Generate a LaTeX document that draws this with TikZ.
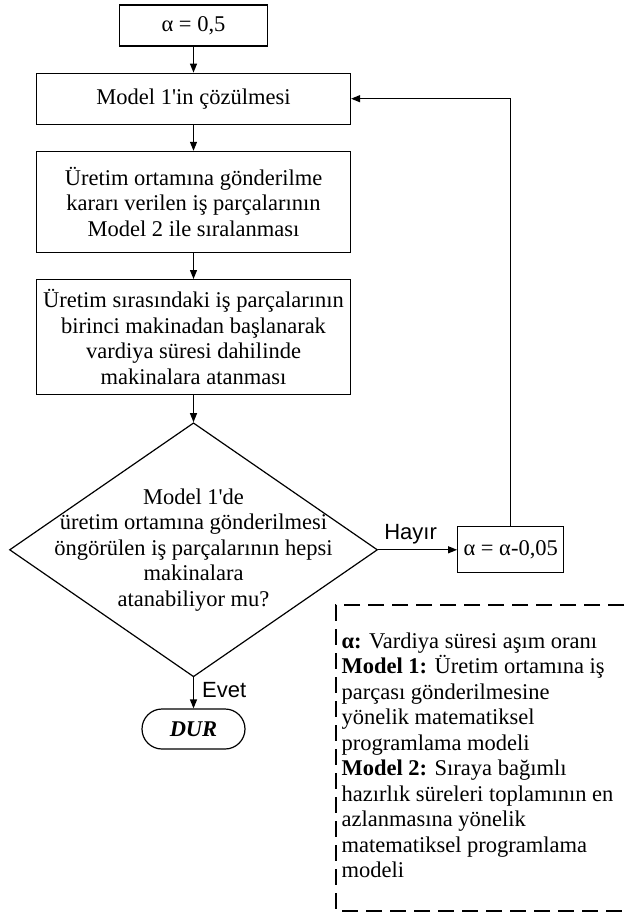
\documentclass[tikz,border=0pt]{standalone}
\usepackage{fontspec}
\setmainfont{Liberation Serif}
\newfontfamily\annotfont{Liberation Sans}
\usetikzlibrary{positioning}
\usetikzlibrary{arrows.meta}
\usetikzlibrary{shapes.geometric}

\begin{document}
\begin{tikzpicture}[x=1pt, y=-1pt, ->, >={Triangle[length=9pt,width=7pt]}, line width=1.2pt, node distance=26pt, font=\fontsize{22.5}{25.5}\selectfont]
		\tikzstyle{box}=[draw=black, rectangle, minimum width=314pt, align=center, inner sep=2pt]
		\tikzstyle{decision}=[draw=black, diamond, minimum width=368pt, minimum height=254pt, inner sep=0pt]
		\tikzstyle{terminal}=[draw=black, rectangle, rounded corners=20pt, minimum width=103pt, minimum height=40pt, font=\fontsize{22.5}{25.5}\selectfont\bfseries\itshape]
		\tikzstyle{annot}=[font=\fontsize{22}{24}\selectfont\annotfont, inner sep=2pt]

		\useasboundingbox (0,0) rectangle (624,913);

		\node[box, minimum width=148pt, minimum height=41pt] (init) at (193.5,25.5) {α = 0,5};
		\node[box, minimum height=51pt, below=of init] (solve) {Model 1\textquotesingle in çözülmesi};
		\node[box, minimum height=101pt, below=of solve] (order) {Üretim ortamına gönderilme\\kararı verilen iş parçalarının\\Model 2 ile sıralanması};
		\node[box, minimum height=115pt, below=of order] (assign) {Üretim sırasındaki iş parçalarının\\birinci makinadan başlanarak\\vardiya süresi dahilinde\\makinalara atanması};
		\node[decision, below=27pt of assign] (check) {};
		\node[align=center, inner sep=0pt] (question) at (check) {Model 1\textquotesingle de\\üretim ortamına gönderilmesi\\öngörülen iş parçalarının hepsi\\makinalara\\atanabiliyor mu?};
		\node[box, minimum width=106pt, minimum height=46pt, right=79pt of check] (update) {α = α-0,05};
		\node[terminal, below=31pt of check] (stop) {DUR};

		\path (init) edge (solve);
		\path (solve) edge (order);
		\path (order) edge (assign);
		\path (assign) edge (check);
		\path (check) edge node[annot, above=3pt, xshift=-7pt] (no) {Hayır} (update);
		\path (check) edge node[annot, right=6pt, yshift=3pt] (yes) {Evet} (stop);
		\draw (update.north) |- (solve.east);

		% legend
		\node[anchor=north west, inner sep=0pt, align=left] (legend) at (341,632) {\textbf{α:} Vardiya süresi aşım oranı\\\textbf{Model 1:} Üretim ortamına iş\\parçası gönderilmesine\\yönelik matematiksel\\programlama modeli\\\textbf{Model 2:} Sıraya bağımlı\\hazırlık süreleri toplamının en\\azlanmasına yönelik\\matematiksel programlama\\modeli};
		\draw[-, dashed, dash pattern=on 16pt off 8pt] (624,605) -| (336,911) -- (624,911);
	\end{tikzpicture}
\end{document}
